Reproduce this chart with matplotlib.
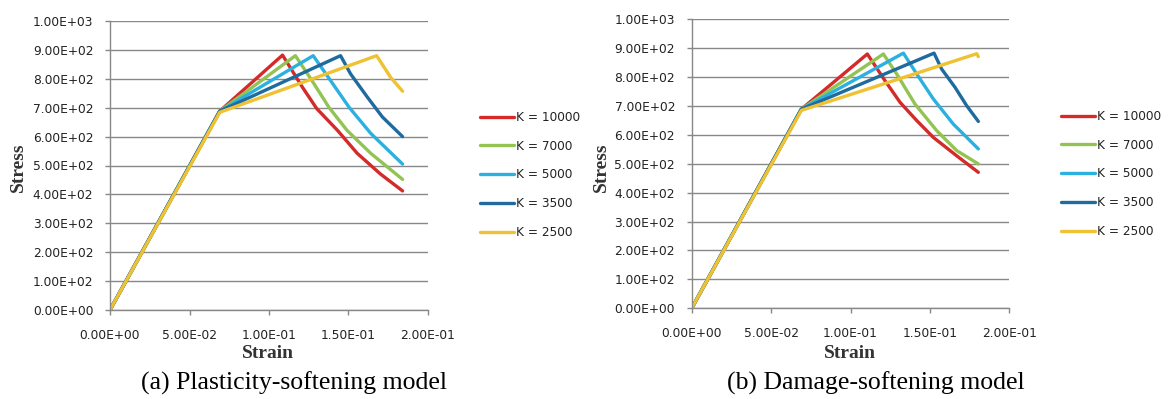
import matplotlib
matplotlib.use("Agg")
import matplotlib.pyplot as plt

# ---------------- data ----------------
labels = ["K = 10000", "K = 7000", "K = 5000", "K = 3500", "K = 2500"]
colors = ["#D42A2A", "#92C353", "#2BB0E0", "#1F6A9E", "#EEC232"]

# (a) Plasticity-softening model
pl_strain_10000 = [0, 0.069, 0.1085, 0.121, 0.130, 0.143, 0.1555, 0.170, 0.184]
pl_stress_10000 = [0, 688, 882, 771, 697, 622, 542, 471, 412]
pl_strain_7000 = [0, 0.069, 0.1166, 0.127, 0.1376, 0.149, 0.164, 0.184]
pl_stress_7000 = [0, 688, 880, 794, 702, 622, 542, 452]
pl_strain_5000 = [0, 0.069, 0.1278, 0.1387, 0.1503, 0.164, 0.184]
pl_stress_5000 = [0, 688, 880, 794, 702, 611, 505]
pl_strain_3500 = [0, 0.069, 0.145, 0.1513, 0.1618, 0.1713, 0.184]
pl_stress_3500 = [0, 688, 880, 817, 737, 668, 600]
pl_strain_2500 = [0, 0.069, 0.1677, 0.1765, 0.184]
pl_stress_2500 = [0, 684, 880, 805, 757]

# (b) Damage-softening model
dm_strain_10000 = [0, 0.069, 0.1106, 0.1217, 0.1312, 0.1417, 0.1521, 0.1669, 0.1805]
dm_stress_10000 = [0, 688, 879, 787, 712, 649, 591, 527, 470]
dm_strain_7000 = [0, 0.069, 0.1207, 0.1291, 0.1406, 0.1543, 0.1669, 0.1805]
dm_stress_7000 = [0, 688, 879, 810, 706, 614, 545, 499]
dm_strain_5000 = [0, 0.069, 0.1333, 0.1417, 0.1521, 0.1647, 0.1805]
dm_stress_5000 = [0, 688, 882, 810, 724, 637, 551]
dm_strain_3500 = [0, 0.069, 0.1526, 0.1574, 0.1658, 0.1732, 0.1805]
dm_stress_3500 = [0, 688, 882, 827, 764, 700, 646]
dm_strain_2500 = [0, 0.069, 0.125, 0.1795, 0.1805]
dm_stress_2500 = [0, 684, 783, 880, 870]

x_ticks = [0, 0.05, 0.10, 0.15, 0.20]
x_ticklabels = ["0.00E+00", "5.00E-02", "1.00E-01", "1.50E-01", "2.00E-01"]
y_ticks = [0, 100, 200, 300, 400, 500, 600, 700, 800, 900, 1000]
y_ticklabels = ["0.00E+00", "1.00E+02", "2.00E+02", "3.00E+02", "4.00E+02",
                "5.00E+02", "6.00E+02", "7.00E+02", "8.00E+02", "9.00E+02", "1.00E+03"]
captions = ["(a) Plasticity-softening model", "(b) Damage-softening model"]

pl_series = [(pl_strain_10000, pl_stress_10000), (pl_strain_7000, pl_stress_7000),
             (pl_strain_5000, pl_stress_5000), (pl_strain_3500, pl_stress_3500),
             (pl_strain_2500, pl_stress_2500)]
dm_series = [(dm_strain_10000, dm_stress_10000), (dm_strain_7000, dm_stress_7000),
             (dm_strain_5000, dm_stress_5000), (dm_strain_3500, dm_stress_3500),
             (dm_strain_2500, dm_stress_2500)]

W, H = 1169, 399
fig = plt.figure(figsize=(W / 100, H / 100), dpi=100)
fig.patch.set_facecolor("white")

def px(x0, y0, x1, y1):
    return [x0 / W, 1 - y1 / H, (x1 - x0) / W, (y1 - y0) / H]

panels = [
    dict(rect=px(110, 21, 428, 310), series=pl_series, ylab_x=18, xlab_x=268,
         leg=(480, 111), cap_x=294),
    dict(rect=px(691.7, 19, 1009.3, 308.3), series=dm_series, ylab_x=601, xlab_x=850,
         leg=(1061, 110), cap_x=876),
]

serif = ["Liberation Serif", "DejaVu Serif"]
grid_c = "#888888"

for p, cap in zip(panels, captions):
    ax = fig.add_axes(p["rect"])
    for (xs, ys), c, lab in zip(p["series"], colors, labels):
        ax.plot(xs, ys, color=c, lw=2.4, label=lab, solid_joinstyle="round",
                solid_capstyle="round")
    ax.set_xlim(0, 0.2)
    ax.set_ylim(0, 1000)
    ax.set_xticks(x_ticks)
    ax.set_xticklabels(x_ticklabels)
    ax.set_yticks(y_ticks)
    ax.set_yticklabels(y_ticklabels)
    ax.yaxis.grid(True, color=grid_c, lw=1.0)
    ax.set_axisbelow(True)
    for s in ["top", "right"]:
        ax.spines[s].set_visible(False)
    for s in ["left", "bottom"]:
        ax.spines[s].set_color(grid_c)
        ax.spines[s].set_linewidth(1.0)
    ax.tick_params(axis="both", direction="out", length=3.5, width=1.0,
                   color=grid_c, labelsize=8.8, labelcolor="#222222")
    ax.tick_params(axis="x", pad=10)
    ax.tick_params(axis="y", pad=8.5)
    for t in ax.get_xticklabels() + ax.get_yticklabels():
        t.set_fontfamily("DejaVu Sans")

    fig.text(p["ylab_x"] / W, 1 - 167 / H, "Stress", rotation=90, ha="center",
             va="center", fontsize=14, fontweight="bold", family=serif, color="#333333")
    fig.text(p["xlab_x"] / W, 1 - 353 / H, "Strain", ha="center", va="center",
             fontsize=14, fontweight="bold", family=serif, color="#333333")
    fig.text(p["cap_x"] / W, 1 - 383 / H, cap, ha="center", va="center",
             fontsize=18.5, family=serif, color="black")

    lx, ly = p["leg"]
    fig.legend(*ax.get_legend_handles_labels(), loc="upper left",
               bbox_to_anchor=(lx / W, 1 - ly / H), frameon=False,
               borderpad=0, borderaxespad=0, handlelength=2.8,
               handletextpad=0.2, labelspacing=1.3,
               prop={"family": "DejaVu Sans", "size": 8.7}, labelcolor="#222222")

fig.savefig("out.png", dpi=100, facecolor="white")
